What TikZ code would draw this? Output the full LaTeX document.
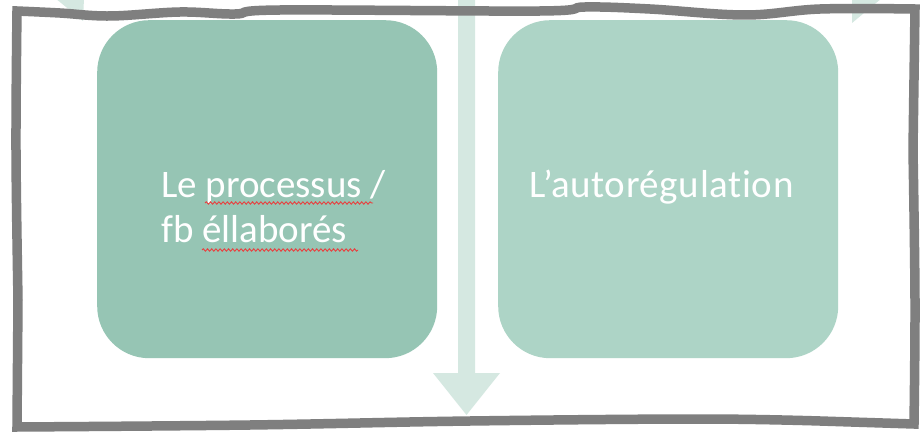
\documentclass[tikz,border=0pt]{standalone}
\usepackage{fontspec}
\setmainfont{Carlito}[Ligatures={NoCommon}]
\usetikzlibrary{decorations.pathmorphing}
\definecolor{boxA}{HTML}{96C5B4}
\definecolor{boxB}{HTML}{ADD4C6}
\definecolor{arrowc}{HTML}{D5E8E1}
\definecolor{framec}{HTML}{7F7F7F}
\definecolor{spellc}{HTML}{E8403F}
\begin{document}
\begin{tikzpicture}[x=1pt,y=-1pt,
  panel/.style={rounded corners=52pt, minimum width=340pt, minimum height=338pt, inner sep=0pt, anchor=north west},
  lbl/.style={text=white, font=\fontsize{39}{47}\selectfont, inner sep=0pt, anchor=base west},
  spell/.style={draw=spellc, line width=0.9pt, decorate, decoration={snake, amplitude=1.2pt, segment length=4.2pt}},
  frame/.style={draw=framec, line width=9.5pt, line join=miter},
  blockarrow/.style={fill=arrowc, draw=none}
]
\useasboundingbox (0,0) rectangle (922,433);
\fill[white] (0,0) rectangle (922,433);
\begin{scope}
\clip (0,0) rectangle (922,433);
% central block arrow
\coordinate (tip) at (466.5,415);
\fill[blockarrow] (458,-5) -- (475,-5) -- (475,373) -- (500,373) -- (tip) -- (433,373) -- (458,373) -- cycle;
% fragments of arrow heads at the top corners
\fill[blockarrow] (55,-2) -- (84,-2) -- (83,21) -- cycle;
\fill[blockarrow] (852,-2) -- (882,-2) -- (852,23) -- cycle;
\end{scope}
% panels
\node[panel, fill=boxA] (pA) at (97,20) {};
\node[panel, fill=boxB] (pB) at (498,20) {};
% texts
\node[lbl] (tA1) at (161,197) {Le processus /};
\node[lbl] (tA2) at (161,243) {fb éllaborés};
\node[lbl] (tB) at (529,197) {\addfontfeature{LetterSpace=1.7}L’autorégulation};
% spelling marks
\draw[spell] (205,203) -- (373,203);
\draw[spell] (202,250) -- (358,250);
% hand drawn frame
\draw[frame] plot[smooth, tension=0.6] coordinates {(17,11) (60,13) (110,16) (180,12) (235,14) (280,10) (540,11) (585,7) (650,9) (745,15) (820,9) (915,9)}
  -- plot[smooth, tension=0.6] coordinates {(913,150) (915,300) (914,424)}
  -- plot[smooth, tension=0.6] coordinates {(820,421) (700,419) (470,421) (250,425) (17,427)}
  -- plot[smooth, tension=0.6] coordinates {(18,300) (16,150) (17,11)}
  -- cycle;
\end{tikzpicture}
\end{document}
